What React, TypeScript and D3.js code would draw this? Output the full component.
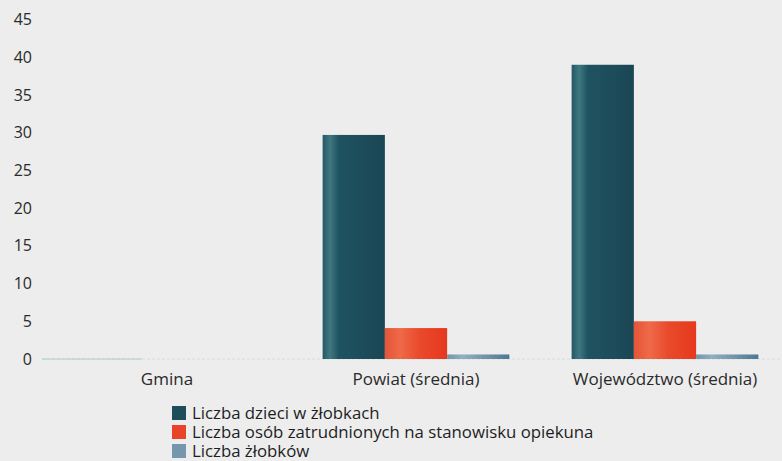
import React from "react";
import * as d3 from "d3";

const categories = ["Gmina", "Powiat (średnia)", "Województwo (średnia)"];
const seriesNames = [
  "Liczba dzieci w żłobkach",
  "Liczba osób zatrudnionych na stanowisku opiekuna",
  "Liczba żłobków",
];
const dzieci = [0, 29.7, 39];
const opiekunowie = [0, 4.1, 5.0];
const zlobki = [0, 0.6, 0.6];
const yTicks = [0, 5, 10, 15, 20, 25, 30, 35, 40, 45];

const W = 782;
const H = 461;
const FONT = "'Open Sans', sans-serif";

export default function App() {
  const series = [dzieci, opiekunowie, zlobki];
  const gradIds = ["gDark", "gRed", "gLight"];
  const legendColors = ["#1e4d5a", "#e8442a", "#7696ae"];
  const y = d3.scaleLinear().domain([0, 45]).range([359, 19.5]);
  const x0 = d3
    .scaleBand<string>()
    .domain(categories)
    .range([42.5, 789.5])
    .paddingInner(0.25)
    .paddingOuter(0.125);
  const x1 = d3
    .scaleBand<string>()
    .domain(seriesNames)
    .range([0, x0.bandwidth()]);

  return (
    <svg
      width={W}
      height={H}
      style={{ position: "absolute", left: 0, top: 0, background: "#ededed" }}
      fontFamily={FONT}
    >
      <defs>
        <linearGradient id="gDark" x1="0" x2="1" y1="0" y2="0">
          <stop offset="0%" stopColor="#235866" />
          <stop offset="12%" stopColor="#3f7880" />
          <stop offset="26%" stopColor="#1f5361" />
          <stop offset="100%" stopColor="#1b4654" />
        </linearGradient>
        <linearGradient id="gRed" x1="0" x2="1" y1="0" y2="0">
          <stop offset="0%" stopColor="#e65438" />
          <stop offset="25%" stopColor="#ee6a48" />
          <stop offset="55%" stopColor="#ea4a2c" />
          <stop offset="100%" stopColor="#e6381c" />
        </linearGradient>
        <linearGradient id="gLight" x1="0" x2="1" y1="0" y2="0">
          <stop offset="0%" stopColor="#6f96ab" />
          <stop offset="25%" stopColor="#92afc0" />
          <stop offset="100%" stopColor="#4f7790" />
        </linearGradient>
      </defs>
      <rect x={0} y={0} width={W} height={H} fill="#ededed" />
      <line x1={42} x2={782} y1={y(0)} y2={y(0)} stroke="#d2dcdc" strokeWidth={1} strokeDasharray="3,2" />
      <line x1={42} x2={142} y1={y(0)} y2={y(0)} stroke="#a9cfc8" strokeWidth={1} />
      {yTicks.map((t) => (
        <text key={t} x={32} y={y(t)} dy="0.35em" textAnchor="end" fontSize={16} fill="#2a2a2a">
          {t}
        </text>
      ))}
      {categories.map((c, ci) => (
        <g key={c} transform={`translate(${x0(c)},0)`}>
          {series.map((s, si) =>
            s[ci] > 0 ? (
              <rect
                key={si}
                x={x1(seriesNames[si])}
                y={y(s[ci])}
                width={x1.bandwidth()}
                height={y(0) - y(s[ci])}
                fill={`url(#${gradIds[si]})`}
              />
            ) : null
          )}
          <text
            x={x0.bandwidth() / 2}
            y={385}
            textAnchor="middle"
            fontSize={17}
            fill="#2a2a2a"
          >
            {c}
          </text>
        </g>
      ))}
      {seriesNames.map((n, i) => (
        <g key={n} transform={`translate(172,${406 + i * 19})`}>
          <rect x={0} y={0} width={14} height={14} fill={legendColors[i]} />
          <text x={20} y={7} dy="0.35em" fontSize={16.8} fill="#1e1e1e">
            {n}
          </text>
        </g>
      ))}
    </svg>
  );
}
